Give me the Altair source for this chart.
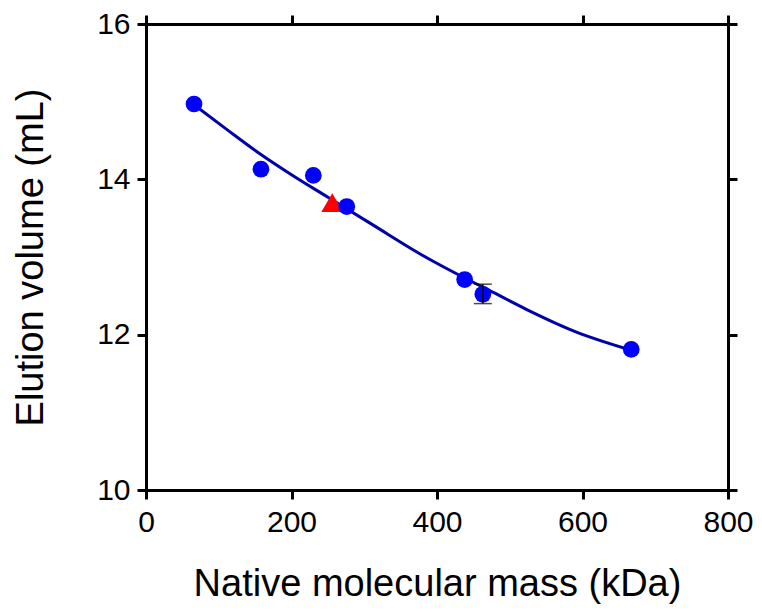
import altair as alt
import pandas as pd

# Standards (circles)
std_mass = [66, 158, 230, 276, 438, 463, 667]
std_vol = [14.97, 14.13, 14.05, 13.65, 12.71, 12.52, 11.81]

# Error bar (one standard)
err_mass = [463]
err_low = [12.40]
err_high = [12.65]

# Unknown protein (triangle)
unk_mass = [256]
unk_vol = [13.70]

# Fitted curve
fit_mass = [66, 110, 155, 200, 250, 309, 386, 438, 472, 522, 590, 667]
fit_vol = [14.96, 14.65, 14.34, 14.06, 13.77, 13.43, 12.99, 12.73, 12.57, 12.33, 12.04, 11.80]

x_ticks = [0, 200, 400, 600, 800]
y_ticks = [10, 12, 14, 16]

std_df = pd.DataFrame({"mass": std_mass, "vol": std_vol})
err_df = pd.DataFrame({"mass": err_mass, "lo": err_low, "hi": err_high})
unk_df = pd.DataFrame({"mass": unk_mass, "vol": unk_vol})
fit_df = pd.DataFrame({"mass": fit_mass, "vol": fit_vol})
frame_df = pd.DataFrame({"mass": [0], "vol": [10]})

xs = alt.Scale(domain=[0, 800], nice=False, zero=False)
ys = alt.Scale(domain=[10, 16], nice=False, zero=False)

x_main = alt.X("mass:Q", scale=xs, title="Native molecular mass (kDa)",
               axis=alt.Axis(values=x_ticks, format="d", labelPadding=8, titlePadding=28,
                             labelFlush=False))
y_main = alt.Y("vol:Q", scale=ys, title="Elution volume (mL)",
               axis=alt.Axis(values=y_ticks, format="d", labelPadding=7, titlePadding=46,
                             labelFlush=False))

fit = alt.Chart(fit_df).mark_line(color="#0000AA", strokeWidth=3, interpolate="monotone").encode(
    x=x_main, y=y_main)

tri = alt.Chart(unk_df).mark_point(shape="triangle-up", filled=True, color="#FF0000",
                                   opacity=1, size=480).encode(
    x=alt.X("mass:Q", scale=xs, axis=None), y=alt.Y("vol:Q", scale=ys, axis=None))

pts = alt.Chart(std_df).mark_circle(color="#0000FF", opacity=1, size=280).encode(
    x=alt.X("mass:Q", scale=xs, axis=None), y=alt.Y("vol:Q", scale=ys, axis=None))

err_rule = alt.Chart(err_df).mark_rule(color="black", strokeWidth=1.5).encode(
    x=alt.X("mass:Q", scale=xs, axis=None), y=alt.Y("lo:Q", scale=ys, axis=None), y2="hi:Q")

cap_lo = alt.Chart(err_df).mark_tick(color="black", thickness=1.5, size=18, orient="horizontal").encode(
    x=alt.X("mass:Q", scale=xs, axis=None), y=alt.Y("lo:Q", scale=ys, axis=None))
cap_hi = alt.Chart(err_df).mark_tick(color="black", thickness=1.5, size=18, orient="horizontal").encode(
    x=alt.X("mass:Q", scale=xs, axis=None), y=alt.Y("hi:Q", scale=ys, axis=None))

frame = alt.Chart(frame_df).mark_point(opacity=0).encode(
    x=alt.X("mass:Q", scale=xs, axis=alt.Axis(orient="top", values=x_ticks, labels=False, title=None)),
    y=alt.Y("vol:Q", scale=ys, axis=alt.Axis(orient="right", values=y_ticks, labels=False, title=None)))

chart = alt.layer(fit, tri, pts, err_rule, cap_lo, cap_hi, frame).resolve_axis(
    x="independent", y="independent"
).properties(
    width=582, height=466,
    autosize=alt.AutoSizeParams(type="none"),
    padding={"left": 138, "top": 16, "right": 26, "bottom": 114},
).configure_view(stroke=None).configure_axis(
    grid=False,
    domainColor="black", domainWidth=3,
    tickColor="black", tickWidth=3, tickSize=9,
    labelFont="Liberation Sans", labelFontSize=30, labelColor="black",
    titleFont="Liberation Sans", titleFontSize=38, titleFontWeight="normal", titleColor="black",
)

chart.save("out.html", embed_options={"renderer": "svg", "actions": False})
